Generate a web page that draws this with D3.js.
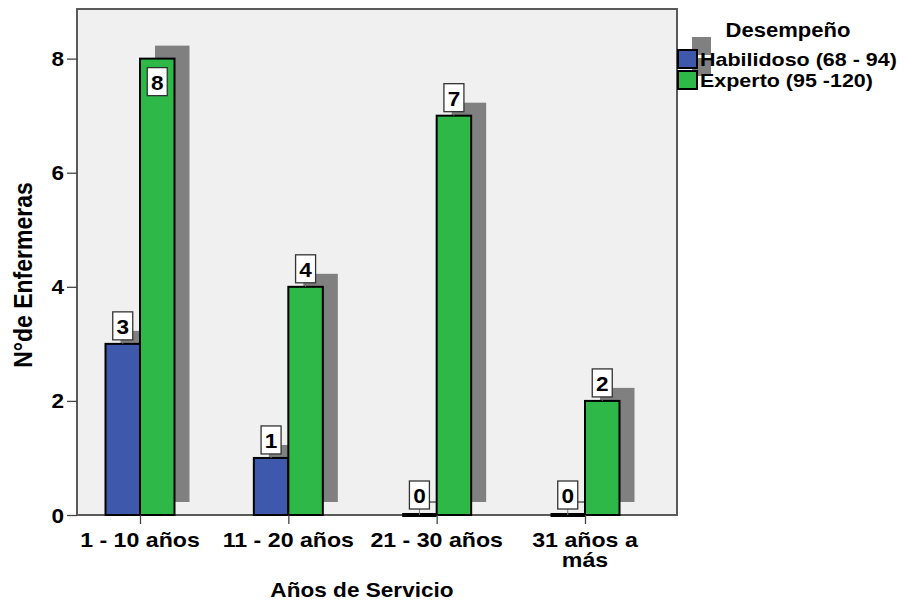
<!DOCTYPE html>
<html>
<head>
<meta charset="utf-8">
<script src="https://cdn.jsdelivr.net/npm/d3@7"></script>
<style>
  html, body { margin: 0; padding: 0; background: #ffffff; }
  svg text { font-family: "Liberation Sans", Arial, sans-serif; font-weight: bold; fill: #000; }
</style>
</head>
<body>
<svg id="chart" width="904" height="601"></svg>
<script>
// Number of nurses by years of service, split by performance level
const categories = ["1 - 10 años", "11 - 20 años", "21 - 30 años", "31 años a más"];
const seriesNames = ["Habilidoso (68 - 94)", "Experto (95 -120)"];
const habilidoso = [3, 1, 0, 0];
const experto = [8, 4, 7, 2];
const yTicks = [0, 2, 4, 6, 8];
const legendTitle = "Desempeño";
const xTitle = "Años de Servicio";
const yTitle = "N°de Enfermeras";

const colors = ["#3e58ac", "#2eb848"];
const shadowColor = "#808080";
const SX = 1.13;              // horizontal glyph stretch of the export
const shadowDx = 15, shadowDy = -13;

const svg = d3.select("#chart");

// plot frame
const plot = { left: 77, right: 677, top: 9, bottom: 515 };

const y = d3.scaleLinear().domain([0, 8.87]).range([plot.bottom, plot.top]);
const x = d3.scalePoint().domain(categories).range([140, 585]);
const sub = d3.scaleBand().domain(seriesNames).range([-34.5, 34.5]);

const rows = categories.map((c, i) => ({
  cat: c,
  vals: [
    { s: seriesNames[0], v: habilidoso[i], color: colors[0] },
    { s: seriesNames[1], v: experto[i], color: colors[1] }
  ]
}));

function sText(parent, xPos, yPos, str, size, anchor) {
  return parent.append("text")
    .attr("transform", `translate(${xPos},${yPos}) scale(${SX},1)`)
    .attr("text-anchor", anchor || "middle")
    .style("font-size", size + "px")
    .text(str);
}

// plot background
svg.append("rect")
  .attr("x", plot.left).attr("y", plot.top)
  .attr("width", plot.right - plot.left).attr("height", plot.bottom - plot.top)
  .attr("fill", "#f0f0f0").attr("stroke", "#5a5a5a").attr("stroke-width", 2);

// shadows behind the bars
const groups = svg.append("g").selectAll("g").data(rows).join("g")
  .attr("transform", d => `translate(${x(d.cat)},0)`);

groups.selectAll("rect.shadow").data(d => d.vals).join("rect")
  .attr("class", "shadow")
  .attr("x", d => sub(d.s) + shadowDx)
  .attr("y", d => y(d.v) + shadowDy - (d.v === 0 ? 1 : 0))
  .attr("width", sub.bandwidth())
  .attr("height", d => Math.max(2, y(0) - y(d.v)))
  .attr("fill", shadowColor);

// bars (zero values collapse to a heavy baseline stroke)
groups.selectAll("rect.bar").data(d => d.vals.filter(p => p.v > 0)).join("rect")
  .attr("class", "bar")
  .attr("x", d => sub(d.s))
  .attr("y", d => y(d.v))
  .attr("width", sub.bandwidth())
  .attr("height", d => y(0) - y(d.v))
  .attr("fill", d => d.color)
  .attr("stroke", "#000")
  .attr("stroke-width", 2);

groups.selectAll("line.zero").data(d => d.vals.filter(p => p.v === 0)).join("line")
  .attr("class", "zero")
  .attr("x1", d => sub(d.s)).attr("x2", d => sub(d.s) + sub.bandwidth())
  .attr("y1", d => y(d.v)).attr("y2", d => y(d.v))
  .attr("stroke", "#000").attr("stroke-width", 4);

// value labels
const boxW = 20, boxH = 28, gap = 4;
groups.each(function(d) {
  const g = d3.select(this);
  d.vals.forEach(p => {
    const cx = sub(p.s) + sub.bandwidth() / 2;
    const top = y(p.v);
    let by = top - gap - boxH - (p.v === 0 ? 2 : 0);
    const inside = by < plot.top + 20;
    if (inside) by = top + 9;
    if (!inside) {
      g.append("line")
        .attr("x1", cx).attr("x2", cx)
        .attr("y1", by + boxH).attr("y2", top)
        .attr("stroke", "#777").attr("stroke-width", 1);
    }
    g.append("rect")
      .attr("x", cx - boxW / 2).attr("y", by)
      .attr("width", boxW).attr("height", boxH)
      .attr("fill", "#fff").attr("stroke", "#333").attr("stroke-width", 1.3);
    sText(g, cx, by + boxH - 6, String(p.v), 20);
  });
});

// y axis
const yAxis = svg.append("g")
  .attr("transform", `translate(${plot.left},0)`)
  .call(d3.axisLeft(y).tickValues(yTicks).tickSize(10).tickPadding(0).tickFormat(d3.format("d")));
yAxis.select(".domain").remove();
yAxis.selectAll(".tick line").attr("stroke", "#444").attr("stroke-width", 1.3);
yAxis.selectAll(".tick text")
  .attr("x", null).attr("dy", null)
  .attr("transform", `translate(-13,7) scale(${SX},1)`)
  .attr("text-anchor", "end")
  .style("font-size", "20px").style("font-family", null);

// x axis
const xAxis = svg.append("g")
  .attr("transform", `translate(0,${plot.bottom})`)
  .call(d3.axisBottom(x).tickSize(9).tickFormat(""));
xAxis.select(".domain").remove();
xAxis.selectAll(".tick line").attr("stroke", "#444").attr("stroke-width", 1.3);
xAxis.selectAll(".tick text").remove();

// category labels, wrapped to fit one band (one text element, one tspan per line)
const maxW = 142;
categories.forEach(c => {
  const words = c.split(" ");
  const lines = [];
  let cur = "";
  const probe = svg.append("text").style("font-size", "20.5px");
  words.forEach(w => {
    const test = cur ? cur + " " + w : w;
    probe.text(test);
    if (probe.node().getComputedTextLength() * SX > maxW && cur) {
      lines.push(cur); cur = w;
    } else cur = test;
  });
  lines.push(cur);
  probe.remove();
  const t = svg.append("text")
    .attr("transform", `translate(${x(c)},547) scale(${SX},1)`)
    .attr("text-anchor", "middle")
    .style("font-size", "20.5px");
  lines.forEach((ln, i) => {
    t.append("tspan").attr("x", 0).attr("y", i * 20).text(ln);
  });
});

// axis titles
sText(svg, 362, 597, xTitle, 20);
svg.append("text")
  .attr("transform", `translate(32,275) scale(${SX},1) rotate(-90)`)
  .attr("text-anchor", "middle")
  .style("font-size", "23px")
  .text(yTitle);

// legend
const lg = svg.append("g");
const swX = 678, swY = [50, 71], sw = 19, sh = 18;
seriesNames.forEach((s, i) => {
  lg.append("rect")
    .attr("x", swX + 14).attr("y", swY[i] - 13)
    .attr("width", sw).attr("height", sh)
    .attr("fill", shadowColor);
});
seriesNames.forEach((s, i) => {
  lg.append("rect")
    .attr("x", swX).attr("y", swY[i])
    .attr("width", sw).attr("height", sh)
    .attr("fill", colors[i]).attr("stroke", "#000").attr("stroke-width", 2);
  sText(lg, 700, swY[i] + 16, s, 19, "start");
});
sText(lg, 788, 37, legendTitle, 19.5);
</script>
</body>
</html>
